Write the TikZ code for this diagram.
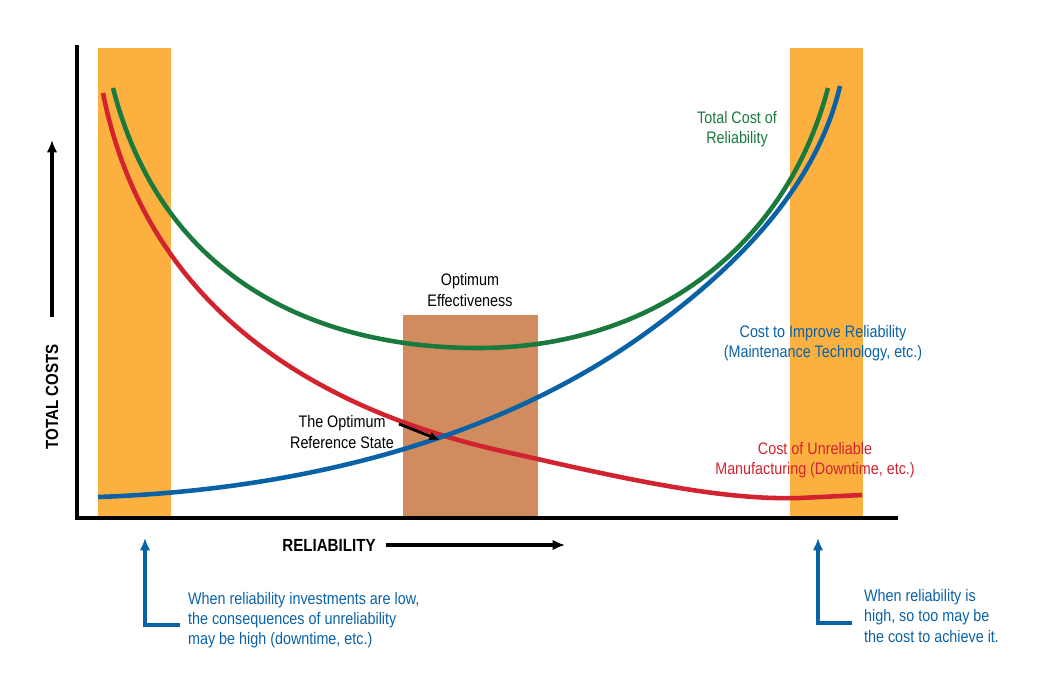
\documentclass[tikz,border=0pt]{standalone}
\usepackage{fontspec}
\setmainfont{Liberation Sans}[FakeStretch=0.86]
\begin{document}
\begin{tikzpicture}[x=0.02cm,y=-0.02cm,
  lbl/.style={font=\fontsize{9.5}{11.5}\selectfont,align=center,inner sep=1pt},
  crv/.style={line width=2.6pt},
  ax/.style={line width=2.2pt,-{Latex[length=7pt,width=6pt]}}]
\useasboundingbox (0,0) rectangle (1050,693);
\definecolor{bar}{HTML}{FBB040}
\definecolor{brn}{HTML}{D08B5F}
\definecolor{grn}{HTML}{1A7A3E}
\definecolor{rd}{HTML}{D2232E}
\definecolor{bl}{HTML}{0A62A6}
\usetikzlibrary{arrows.meta}
\fill[bar] (98,48) rectangle (171,518);
\fill[bar] (790,48) rectangle (863,518);
\fill[brn] (403,315) rectangle (538,518);
\draw[line width=2.4pt] (77,45) -- (77,518) -- (898,518);
\draw[crv,grn] (113,88) .. controls (165,290) and (330,348) .. (478,348) .. controls (650,348) and (785,250) .. (828,88);
\draw[crv,rd] (103,93) .. controls (150,330) and (350,420) .. (520,455) .. controls (650,485) and (730,500) .. (800,498) -- (862,495);
\draw[crv,bl] (98,497) .. controls (300,490) and (500,440) .. (650,330) .. controls (760,250) and (820,170) .. (840,86);
\node[lbl,text=grn] (tc) at (737,129) {Total Cost of\\Reliability};
\node[lbl] (oe) at (470,290) {Optimum\\Effectiveness};
\node[lbl,text=bl] (ci) at (823,343) {Cost to Improve Reliability\\(Maintenance Technology, etc.)};
\node[lbl,text=rd] (cu) at (815,460) {Cost of Unreliable\\Manufacturing (Downtime, etc.)};
\node[lbl] (ors) at (342,432) {The Optimum\\Reference State};
\coordinate (ot) at (440,440);
\draw[line width=1.6pt,-{Latex[length=6pt,width=5pt]}] (399,424) -- (ot);
\node[lbl,font=\bfseries\fontsize{10}{12}\selectfont,rotate=90] (ty) at (52,397) {TOTAL COSTS};
\coordinate (yt) at (52,140);\coordinate (yb) at (52,317);
\draw[ax] (yb) -- (yt);
\node[lbl,font=\bfseries\fontsize{10}{12}\selectfont] (rx) at (329,545) {RELIABILITY};
\coordinate (xl) at (386,545);\coordinate (xr) at (565,545);
\draw[ax] (xl) -- (xr);
\coordinate (la) at (145,538);\coordinate (lb) at (180,625);
\draw[bl,line width=2pt,{Latex[length=7pt,width=6pt]}-] (la) |- (lb);
\node[lbl,text=bl,align=left,anchor=west] (lt) at (186,620) {When reliability investments are low,\\the consequences of unreliability\\may be high (downtime, etc.)};
\coordinate (ra) at (818,538);\coordinate (rb) at (852,623);
\draw[bl,line width=2pt,{Latex[length=7pt,width=6pt]}-] (ra) |- (rb);
\node[lbl,text=bl,align=left,anchor=west] (rt) at (862,616) {When reliability is\\high, so too may be\\the cost to achieve it.};
\end{tikzpicture}
\end{document}
